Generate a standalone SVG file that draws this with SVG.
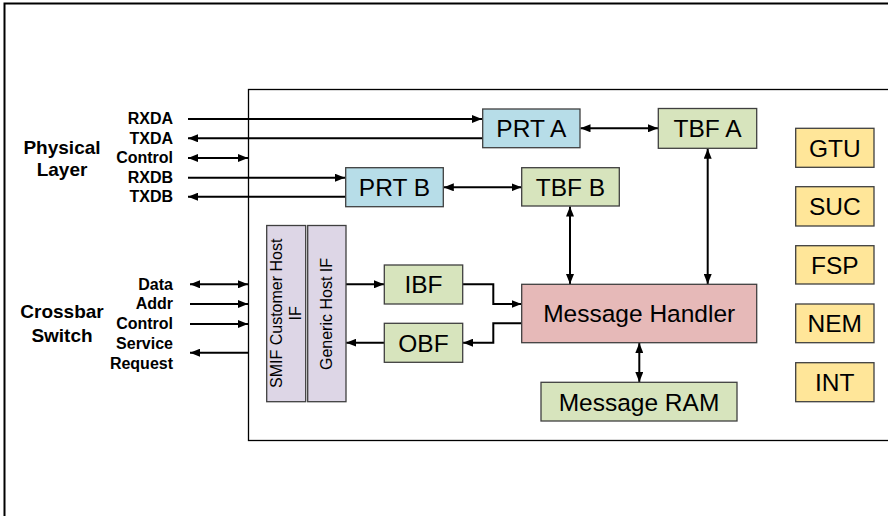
<svg xmlns="http://www.w3.org/2000/svg" width="888" height="516" viewBox="0 0 888 516">
<defs>
<style>
.box{stroke:#3f3f3f;stroke-width:1.3}
.blue{fill:#b7dde8}
.green{fill:#d7e4bd}
.pink{fill:#e6b9b8}
.yel{fill:#ffe699}
.lav{fill:#ddd6e6}
.t{font-family:"Liberation Sans",Arial,sans-serif;font-size:24.5px;fill:#000;text-anchor:middle}
.vt{font-family:"Liberation Sans",Arial,sans-serif;font-size:16px;fill:#000;text-anchor:middle}
.lbl{font-family:"Liberation Sans",Arial,sans-serif;font-size:16px;font-weight:bold;fill:#000;text-anchor:end}
.big{font-family:"Liberation Sans",Arial,sans-serif;font-size:19px;font-weight:bold;fill:#000;text-anchor:middle}
.c{fill:none;stroke:#000;stroke-width:2}
</style>
<marker id="ah" viewBox="0 0 10 8" refX="10" refY="4" markerWidth="10" markerHeight="8" markerUnits="userSpaceOnUse" orient="auto-start-reverse">
<path d="M0,0 L10,4 L0,8 Z" fill="#000"/>
</marker>
</defs>
<rect width="888" height="516" fill="#fff"/>
<rect id="frame" x="4.5" y="3.5" width="900" height="530" fill="none" stroke="#000" stroke-width="2"/>
<rect id="chip" x="248.5" y="89.5" width="700" height="351" fill="none" stroke="#000" stroke-width="1.3"/>

<g id="physical-layer">
<text class="big" x="62" y="154">Physical</text>
<text class="big" x="62" y="175.5">Layer</text>
<text class="lbl" x="173" y="124">RXDA</text>
<text class="lbl" x="173" y="143.5">TXDA</text>
<text class="lbl" x="173" y="163">Control</text>
<text class="lbl" x="173" y="182.5">RXDB</text>
<text class="lbl" x="173" y="202">TXDB</text>
</g>
<g id="crossbar-switch">
<text class="big" x="62" y="317.5">Crossbar</text>
<text class="big" x="62" y="342">Switch</text>
<text class="lbl" x="173" y="289.5">Data</text>
<text class="lbl" x="173" y="309">Addr</text>
<text class="lbl" x="173" y="329">Control</text>
<text class="lbl" x="173" y="349">Service</text>
<text class="lbl" x="173" y="368.5">Request</text>
</g>

<g id="connectors">
<path class="c" d="M188,119 H482" marker-end="url(#ah)"/>
<path class="c" d="M482.7,138.3 H188" marker-end="url(#ah)"/>
<path class="c" d="M188,158 H248" marker-start="url(#ah)" marker-end="url(#ah)"/>
<path class="c" d="M188,177.7 H345" marker-end="url(#ah)"/>
<path class="c" d="M345.7,196.7 H188" marker-end="url(#ah)"/>
<path class="c" d="M580.5,128.3 H658" marker-start="url(#ah)" marker-end="url(#ah)"/>
<path class="c" d="M443.8,187.3 H521.5" marker-start="url(#ah)" marker-end="url(#ah)"/>
<path class="c" d="M570,206.5 V284" marker-start="url(#ah)" marker-end="url(#ah)"/>
<path class="c" d="M707.7,148.8 V284" marker-start="url(#ah)" marker-end="url(#ah)"/>
<path class="c" d="M639.3,343 V382" marker-start="url(#ah)" marker-end="url(#ah)"/>
<path class="c" d="M190,284.3 H248" marker-start="url(#ah)" marker-end="url(#ah)"/>
<path class="c" d="M190,304 H248" marker-end="url(#ah)"/>
<path class="c" d="M190,324 H248" marker-end="url(#ah)"/>
<path class="c" d="M248,352.7 H190" marker-end="url(#ah)"/>
<path class="c" d="M346,284.3 H384" marker-end="url(#ah)"/>
<path class="c" d="M462.7,284.3 H493.3 V304 H521.5" marker-end="url(#ah)"/>
<path class="c" d="M521.7,323.3 H493.3 V342.7 H463" marker-end="url(#ah)"/>
<path class="c" d="M384.3,342.7 H346.2" marker-end="url(#ah)"/>
</g>

<g id="prt-a"><rect class="box blue" x="482.7" y="109" width="97.3" height="38.7"/><text class="t" x="531.3" y="137">PRT A</text></g>
<g id="tbf-a"><rect class="box green" x="658.3" y="108.5" width="98.4" height="39.8"/><text class="t" x="707.5" y="137">TBF A</text></g>
<g id="prt-b"><rect class="box blue" x="345.7" y="167.7" width="97.6" height="39"/><text class="t" x="394.5" y="196">PRT B</text></g>
<g id="tbf-b"><rect class="box green" x="521.7" y="167.7" width="97.6" height="38.3"/><text class="t" x="570.5" y="196">TBF B</text></g>
<g id="smif-customer-host-if"><rect class="box lav" x="266.7" y="225.5" width="39" height="176.2"/><text class="vt" transform="translate(281.5,313.3) rotate(-90)"><tspan x="0" y="0">SMIF Customer Host</tspan><tspan x="0" y="19.5">IF</tspan></text></g>
<g id="generic-host-if"><rect class="box lav" x="307.7" y="225.5" width="38.3" height="176.2"/><text class="vt" transform="translate(331.7,314) rotate(-90)" x="0" y="0">Generic Host IF</text></g>
<g id="ibf"><rect class="box green" x="384.3" y="265" width="78.4" height="39"/><text class="t" x="423.5" y="293">IBF</text></g>
<g id="obf"><rect class="box green" x="384.3" y="323.3" width="78.4" height="39"/><text class="t" x="423.5" y="351.5">OBF</text></g>
<g id="message-handler"><rect class="box pink" x="521.7" y="284.3" width="235" height="58.4"/><text class="t" x="639.2" y="322">Message Handler</text></g>
<g id="message-ram"><rect class="box green" x="541" y="382.3" width="196" height="38.7"/><text class="t" x="639" y="410.5">Message RAM</text></g>
<g id="gtu"><rect class="box yel" x="795.7" y="128.3" width="78.3" height="39"/><text class="t" x="834.8" y="156.5">GTU</text></g>
<g id="suc"><rect class="box yel" x="795.7" y="186.7" width="78.3" height="39.3"/><text class="t" x="834.8" y="215">SUC</text></g>
<g id="fsp"><rect class="box yel" x="795.7" y="245.7" width="78.3" height="38.3"/><text class="t" x="834.8" y="273.5">FSP</text></g>
<g id="nem"><rect class="box yel" x="795.7" y="304" width="78.3" height="38.7"/><text class="t" x="834.8" y="332">NEM</text></g>
<g id="int"><rect class="box yel" x="795.7" y="362.7" width="78.3" height="39"/><text class="t" x="834.8" y="391">INT</text></g>
</svg>
